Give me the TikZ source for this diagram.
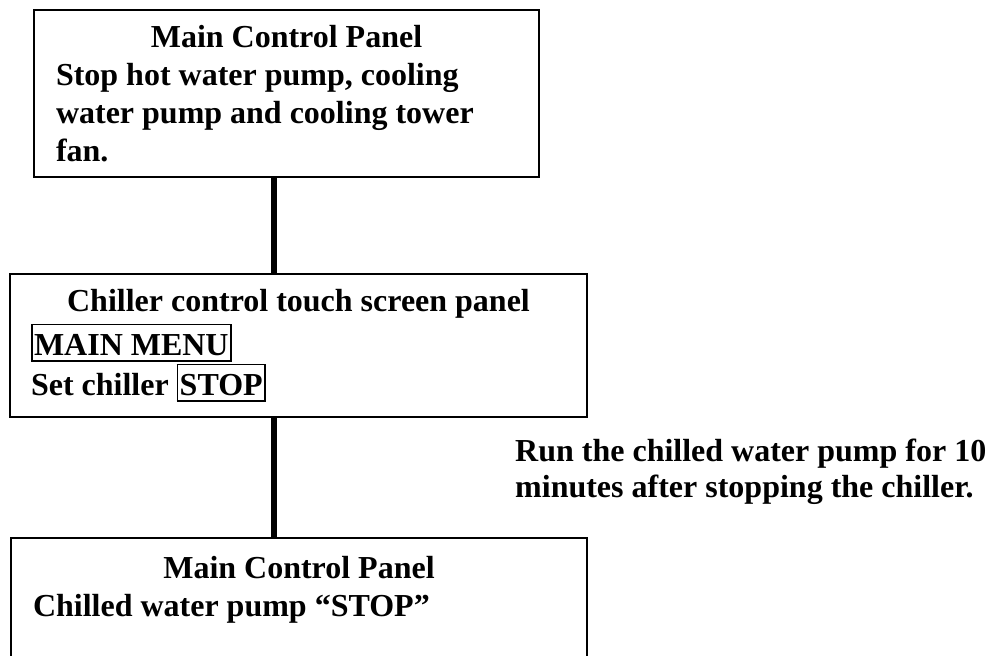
\documentclass[tikz,border=0pt]{standalone}
\usepackage{fontspec}
\setmainfont{Liberation Serif}
\newcommand{\paneltitle}[1]{\makebox[\linewidth]{#1}}
\newcommand{\screenkey}[1]{{\setlength{\fboxsep}{1.5pt}\setlength{\fboxrule}{1.5pt}\fbox{\rule[-3.5pt]{0pt}{32pt}#1}}}

\begin{document}
\begin{tikzpicture}[
  x=1pt, y=-1pt,
  every node/.style={font=\fontsize{32pt}{38pt}\selectfont\bfseries},
  panel/.style={draw, line width=2pt, anchor=north west, align=flush left, inner ysep=0pt},
  note/.style={anchor=north west, inner sep=0pt, align=flush left,
               font=\fontsize{32pt}{36pt}\selectfont\bfseries},
  link/.style={line width=5.5pt}
]
\useasboundingbox (0,0) rectangle (994,656);
\node[panel, minimum width=505pt, minimum height=167pt, text width=461pt, inner xsep=22pt]
  (stopaux) at (33,9)
  {\paneltitle{Main Control Panel}\\
   Stop hot water pump, cooling\\
   water pump and cooling tower\\
   fan.};
\node[panel, minimum width=577pt, minimum height=143pt, text width=535pt, inner xsep=21pt]
  (chillerpanel) at (9,273)
  {\paneltitle{Chiller control touch screen panel}\\[4pt]
   \screenkey{MAIN MENU}\\[2pt]
   Set chiller \screenkey{STOP}};
\node[panel, text width=532pt, inner xsep=22pt, inner ysep=18pt]
  (pumppanel) at (10,537)
  {\paneltitle{Main Control Panel}\\
   Chilled water pump “STOP”\\
   \mbox{}};
\node[note] (afterrun) at (515,439)
  {Run the chilled water pump for 10\\
   minutes after stopping the chiller.};
\coordinate (spine) at (274,0);
\draw[link] (spine |- stopaux.south) -- (spine |- chillerpanel.north);
\draw[link] (spine |- chillerpanel.south) -- (spine |- pumppanel.north);
\end{tikzpicture}
\end{document}
